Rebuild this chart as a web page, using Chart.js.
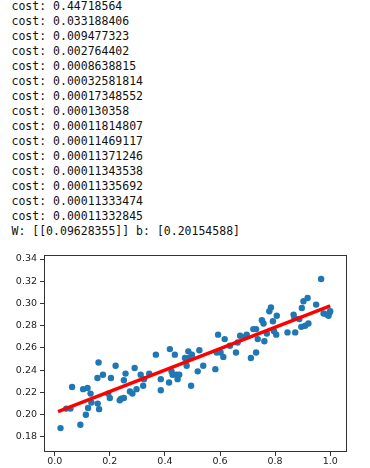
<!DOCTYPE html>
<html>
<head>
<meta charset="utf-8">
<script src="https://cdn.jsdelivr.net/npm/chart.js@4/dist/chart.umd.min.js"></script>
<style>
    html, body { margin: 0; padding: 0; background: #fff; width: 370px; height: 468px; overflow: hidden; }
    #log { position: absolute; left: 11.5px; top: -1.5px; margin: 0; font: 11.5px/15px "DejaVu Sans Mono", monospace; color: #111; white-space: pre; }
    #plot { position: absolute; left: 0; top: 245px; width: 370px; height: 223px; }
</style>
</head>
<body>
<pre id="log"></pre>
<div id="plot"><canvas id="chart"></canvas></div>
<script>
// printed training log
const costs = [
    '0.44718564', '0.033188406', '0.009477323', '0.002764402', '0.0008638815',
    '0.00032581814', '0.00017348552', '0.000130358', '0.00011814807', '0.00011469117',
    '0.00011371246', '0.00011343538', '0.00011335692', '0.00011333474', '0.00011332845',
];
const weight = '0.09628355';
const bias = '0.20154588';

// scatter samples
const xs = [
    0.021, 0.042, 0.057, 0.063, 0.093, 0.103, 0.119, 0.113, 0.121, 0.130,
    0.133, 0.155, 0.159, 0.156, 0.161, 0.175, 0.194, 0.200, 0.204, 0.221,
    0.236, 0.241, 0.251, 0.251, 0.257, 0.273, 0.282, 0.290, 0.297, 0.312,
    0.321, 0.324, 0.343, 0.367, 0.385, 0.385, 0.415, 0.418, 0.424, 0.428,
    0.436, 0.442, 0.446, 0.452, 0.473, 0.479, 0.485, 0.488, 0.495, 0.498,
    0.519, 0.525, 0.539, 0.583, 0.593, 0.588, 0.602, 0.612, 0.617, 0.636,
    0.658, 0.664, 0.673, 0.691, 0.697, 0.712, 0.721, 0.731, 0.737, 0.731,
    0.752, 0.758, 0.761, 0.770, 0.779, 0.785, 0.792, 0.796, 0.806, 0.804,
    0.845, 0.867, 0.870, 0.873, 0.888, 0.897, 0.895, 0.903, 0.909, 0.918,
    0.921, 0.949, 0.967, 0.976, 0.994, 1.000, 0.988, 0.998,
];
const ys = [
    0.188, 0.2055, 0.2055, 0.225, 0.191, 0.223, 0.224, 0.200, 0.206, 0.219,
    0.211, 0.233, 0.247, 0.210, 0.205, 0.236, 0.219, 0.215, 0.233, 0.244,
    0.213, 0.2145, 0.215, 0.231, 0.237, 0.221, 0.219, 0.242, 0.223, 0.236,
    0.226, 0.232, 0.237, 0.254, 0.232, 0.222, 0.229, 0.259, 0.239, 0.236,
    0.254, 0.236, 0.232, 0.236, 0.251, 0.244, 0.257, 0.251, 0.226, 0.254,
    0.239, 0.258, 0.244, 0.241, 0.272, 0.256, 0.256, 0.252, 0.268, 0.262,
    0.256, 0.265, 0.271, 0.270, 0.272, 0.251, 0.277, 0.256, 0.268, 0.277,
    0.285, 0.282, 0.266, 0.273, 0.293, 0.2965, 0.284, 0.275, 0.289, 0.272,
    0.274, 0.290, 0.287, 0.274, 0.286, 0.296, 0.279, 0.302, 0.280, 0.305,
    0.282, 0.299, 0.322, 0.291, 0.289, 0.293, 0.290, 0.292,
];

// fitted line end points
const fitX = [0.012, 1.0];
const fitY = [0.2027, 0.2978];

const xTicks = [0.0, 0.2, 0.4, 0.6, 0.8, 1.0];
const yTicks = [0.18, 0.20, 0.22, 0.24, 0.26, 0.28, 0.30, 0.32, 0.34];

document.getElementById('log').textContent =
    costs.map(c => 'cost: ' + c).join('\n') +
    '\nW: [[' + weight + ']] b: [' + bias + ']';

const framePlugin = {
    id: 'frame',
    afterDatasetsDraw(chart) {
        const { ctx, chartArea: a } = chart;
        ctx.save();
        ctx.strokeStyle = '#333';
        ctx.lineWidth = 1;
        ctx.strokeRect(a.left + 0.5, a.top + 0.5, a.right - a.left - 1, a.bottom - a.top - 1);
        ctx.restore();
    },
};

const tickFont = { family: 'DejaVu Sans', size: 9.5 };

new Chart(document.getElementById('chart'), {
    data: {
        datasets: [
            {
                type: 'line',
                data: fitX.map((x, i) => ({ x, y: fitY[i] })),
                borderColor: '#ff0000',
                borderWidth: 3.5,
                pointRadius: 0,
                order: 0,
            },
            {
                type: 'scatter',
                data: xs.map((x, i) => ({ x, y: ys[i] })),
                backgroundColor: '#1f77b4',
                borderWidth: 0,
                pointRadius: 3.2,
                order: 1,
            },
        ],
    },
    options: {
        responsive: true,
        maintainAspectRatio: false,
        animation: false,
        layout: { padding: { top: 10, right: 23, left: 0, bottom: 0 } },
        plugins: { legend: { display: false }, tooltip: { enabled: false } },
        scales: {
            x: {
                type: 'linear',
                min: -0.039,
                max: 1.061,
                afterBuildTicks: s => { s.ticks = xTicks.map(v => ({ value: v })); },
                afterFit: s => { s.height = 16; },
                ticks: { font: tickFont, color: '#222', padding: 0, maxRotation: 0, callback: v => v.toFixed(1) },
                grid: { drawOnChartArea: false, drawTicks: true, tickLength: 4, color: '#333' },
                border: { display: false },
            },
            y: {
                type: 'linear',
                min: 0.1665,
                max: 0.3436,
                afterBuildTicks: s => { s.ticks = yTicks.map(v => ({ value: v })); },
                afterFit: s => { s.width = 44; },
                ticks: { font: tickFont, color: '#222', padding: 3, callback: v => v.toFixed(2) },
                grid: { drawOnChartArea: false, drawTicks: true, tickLength: 4, color: '#333' },
                border: { display: false },
            },
        },
    },
    plugins: [framePlugin],
});
</script>
</body>
</html>
